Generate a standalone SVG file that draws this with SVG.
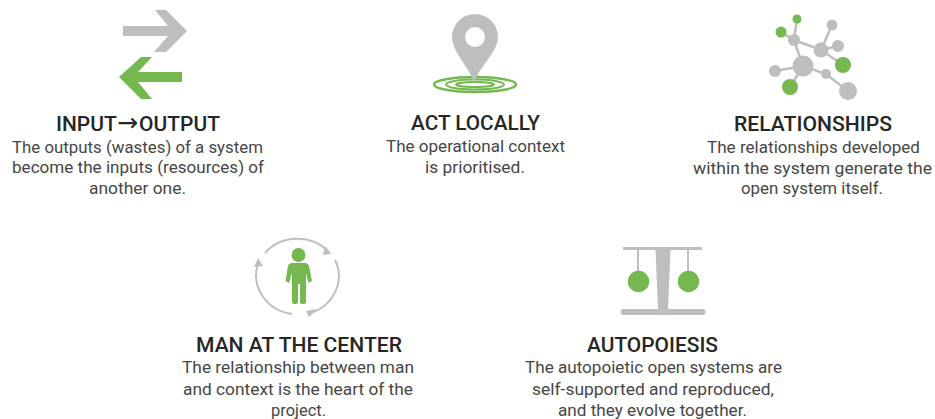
<svg xmlns="http://www.w3.org/2000/svg" width="935" height="419" viewBox="0 0 935 419">
<style>
text{font-family:"Roboto","Liberation Sans",sans-serif;text-anchor:start}
.t{font-size:21px;font-weight:500;fill:#262626}
.b{font-size:16.5px;fill:#464646}
.a{font-family:"DejaVu Sans",sans-serif;font-size:25px;font-weight:400}
.g{fill:#bdbfbc}.v{fill:#74b84f}
.ln{stroke:#bdbfbc;fill:none}
</style>
<rect width="935" height="419" fill="#fff"/>
<g id="input-output">
<path class="g" d="M123 26H168L155 10H166L187 31L166 52H154L168 36H123Z"/>
<path class="v" d="M119 77L141 57H152L138 72H182V82H138L152 99H141Z"/>
<text class="t" x="56" y="131">INPUT<tspan class="a" x="117">→</tspan><tspan x="139">OUTPUT</tspan></text>
<text class="b" x="12" y="153" textLength="251" lengthAdjust="spacingAndGlyphs">The outputs (wastes) of a system</text>
<text class="b" x="12" y="173" textLength="252" lengthAdjust="spacingAndGlyphs">become the inputs (resources) of</text>
<text class="b" x="89" y="194" textLength="97" lengthAdjust="spacingAndGlyphs">another one.</text>
</g>
<g id="act-locally">
<g fill="none" stroke="#74b84f"><ellipse cx="475" cy="84.500" rx="41" ry="7.500" stroke-width="2.500"/><ellipse cx="475" cy="84.500" rx="29" ry="5" stroke-width="2"/><ellipse cx="475" cy="84.500" rx="19" ry="2.500" stroke-width="2"/></g>
<path class="g" fill-rule="evenodd" d="M474 83C470 68 452 52 452 37A23 23 0 0 1 498 37C498 52 478 68 474 83ZM465 37A10 10 0 0 0 485 37A10 10 0 0 0 465 37Z"/>
<text class="t" x="411" y="130" textLength="129" lengthAdjust="spacingAndGlyphs">ACT LOCALLY</text>
<text class="b" x="386" y="152" textLength="179" lengthAdjust="spacingAndGlyphs">The operational context</text>
<text class="b" x="425" y="173" textLength="100" lengthAdjust="spacingAndGlyphs">is prioritised.</text>
</g>
<g id="relationships">
<g class="ln" stroke-width="2.500"><path d="M797 19L794 40M781 32L794 40L821 50L832 25M821 50L838 46M821 50L843 65M794 40L803 66L775 71M803 66L790 87M803 66L826 74L848 91"/></g>
<circle class="v" cx="797" cy="19" r="4.500"/><circle class="v" cx="781" cy="32" r="5.500"/><circle class="g" cx="794" cy="40" r="6"/><circle class="g" cx="832" cy="25" r="5.500"/><circle class="g" cx="821" cy="50" r="7.500"/><circle class="g" cx="838" cy="46" r="6"/><circle class="v" cx="843" cy="65" r="8"/><circle class="g" cx="803" cy="66" r="10.500"/><circle class="g" cx="775" cy="71" r="6"/><circle class="g" cx="826" cy="74" r="5"/><circle class="v" cx="790" cy="87" r="8"/><circle class="g" cx="848" cy="91" r="9"/>
<text class="t" x="734" y="131" textLength="158" lengthAdjust="spacingAndGlyphs">RELATIONSHIPS</text>
<text class="b" x="707" y="153" textLength="213" lengthAdjust="spacingAndGlyphs">The relationships developed</text>
<text class="b" x="693" y="174" textLength="239" lengthAdjust="spacingAndGlyphs">within the system generate the</text>
<text class="b" x="741" y="194" textLength="142" lengthAdjust="spacingAndGlyphs">open system itself.</text>
</g>
<g id="man-at-the-center">
<g class="ln" stroke-width="2"><path d="M265 253A42 39 0 0 1 328 251M335 260A42 39 0 0 1 311 313M292 314A42 39 0 0 1 258 264"/></g>
<path class="g" d="M325 246L331 254L323 255ZM317 309L309 317L306 311ZM258 258L263 266L254 267Z"/>
<circle class="v" cx="298.500" cy="255" r="7"/>
<path class="v" d="M292 263H305Q308 263 309 266L312 281L308.500 283L306 273V302Q306 304 304 304H302Q300 304 300 302V284H298V302Q298 304 296 304H294Q292 304 292 302V273L289 283L285.500 281L288 266Q289 263 292 263Z"/>
<text class="t" x="196" y="352" textLength="206" lengthAdjust="spacingAndGlyphs">MAN AT THE CENTER</text>
<text class="b" x="182" y="373" textLength="232" lengthAdjust="spacingAndGlyphs">The relationship between man</text>
<text class="b" x="183" y="395" textLength="230" lengthAdjust="spacingAndGlyphs">and context is the heart of the</text>
<text class="b" x="271" y="416" textLength="55" lengthAdjust="spacingAndGlyphs">project.</text>
</g>
<g id="autopoiesis">
<path class="g" d="M623 247H702V250H670.500L668 309H704Q707 312 704 315H622Q619 312 622 309H658L655.500 250H623Z"/>
<path class="ln" stroke-width="2" d="M638 250V272M688 250V272"/>
<circle class="v" cx="638.500" cy="281.500" r="10.700"/><circle class="v" cx="688.500" cy="281.500" r="10.700"/>
<text class="t" x="587" y="352" textLength="131" lengthAdjust="spacingAndGlyphs">AUTOPOIESIS</text>
<text class="b" x="525" y="373" textLength="257" lengthAdjust="spacingAndGlyphs">The autopoietic open systems are</text>
<text class="b" x="532" y="395" textLength="242" lengthAdjust="spacingAndGlyphs">self-supported and reproduced,</text>
<text class="b" x="558" y="416" textLength="189" lengthAdjust="spacingAndGlyphs">and they evolve together.</text>
</g>
</svg>
